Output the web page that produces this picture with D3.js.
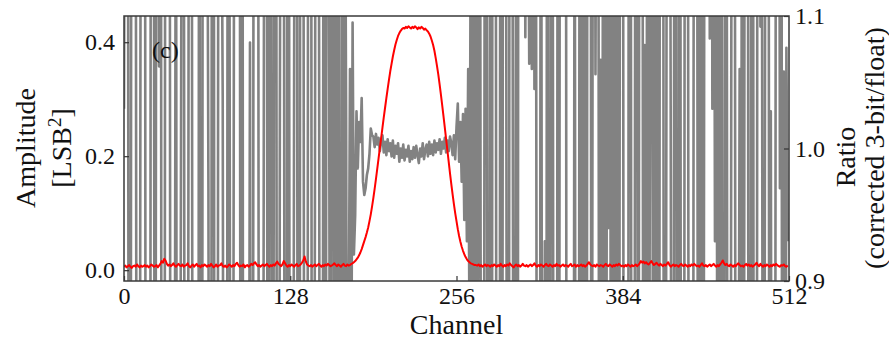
<!DOCTYPE html>
<html>
<head>
<meta charset="utf-8">
<script src="https://cdn.jsdelivr.net/npm/d3@7"></script>
<style>
  body { margin: 0; background: #fff; }
  text { font-family: "Liberation Serif", "Times New Roman", serif; fill: #111; }
</style>
</head>
<body>
<div id="chart"></div>
<script>
// channel ticks
var xTicks = [0, 128, 256, 384, 512];
var ampTicks = [0.0, 0.2, 0.4];
var ratioTicks = [0.9, 1.0, 1.1];

// amplitude spectrum (red), one value per channel 0..511
var amplitude = [
  .006,.008,.005,.007,.009,.006,.004,.007,.008,.006,.01,.007,.005,.008,.006,.007,
  .009,.006,.008,.005,.007,.01,.008,.006,.007,.009,.005,.008,.011,.016,.013,.02,
  .017,.011,.008,.01,.007,.009,.012,.008,.006,.009,.011,.008,.007,.01,.006,.008,
  .009,.012,.007,.005,.008,.01,.006,.009,.011,.007,.008,.005,.009,.007,.01,.008,
  .006,.009,.007,.011,.008,.005,.007,.01,.006,.008,.009,.012,.007,.006,.008,.005,
  .007,.01,.008,.006,.009,.007,.011,.013,.009,.006,.008,.007,.01,.005,.008,.009,
  .006,.008,.011,.009,.012,.014,.01,.007,.009,.006,.008,.01,.007,.009,.011,.008,
  .006,.009,.007,.01,.008,.012,.015,.011,.009,.007,.01,.016,.012,.008,.006,.009,
  .007,.01,.008,.006,.009,.011,.007,.008,.01,.013,.017,.024,.015,.01,.008,.007,
  .009,.006,.008,.01,.007,.009,.011,.008,.006,.009,.007,.01,.008,.011,.009,.007,
  .008,.01,.012,.009,.007,.01,.008,.006,.009,.011,.008,.007,.01,.008,.009,.011,
  .012,.014,.016,.019,.022,.026,.031,.037,.044,.051,.058,.066,.075,.086,.098,.112,
  .127,.143,.16,.178,.196,.214,.232,.25,.268,.285,.302,.318,.334,.349,.362,.375,
  .386,.396,.404,.411,.416,.42,.423,.425,.424,.427,.425,.428,.426,.424,.427,.425,
  .428,.426,.423,.426,.424,.427,.425,.422,.424,.421,.419,.415,.41,.403,.395,.385,
  .372,.358,.343,.326,.308,.289,.27,.25,.23,.21,.19,.17,.151,.133,.116,.1,
  .086,.072,.06,.05,.041,.034,.028,.023,.019,.016,.014,.012,.011,.01,.009,.009,
  .008,.01,.007,.009,.006,.008,.01,.007,.009,.008,.006,.009,.007,.01,.008,.006,
  .009,.007,.011,.008,.006,.009,.007,.01,.008,.012,.009,.007,.005,.008,.01,.007,
  .009,.006,.008,.011,.008,.007,.009,.006,.008,.01,.007,.009,.012,.008,.006,.009,
  .007,.01,.008,.006,.009,.011,.008,.007,.01,.008,.006,.009,.007,.011,.008,.009,
  .006,.008,.01,.007,.009,.008,.006,.009,.011,.007,.008,.01,.006,.009,.007,.008,
  .01,.007,.009,.006,.008,.011,.014,.01,.008,.007,.009,.006,.01,.008,.007,.009,
  .008,.006,.009,.011,.008,.007,.01,.008,.006,.009,.007,.01,.008,.011,.009,.007,
  .008,.006,.009,.007,.01,.008,.006,.009,.007,.008,.01,.007,.009,.012,.016,.013,
  .015,.012,.014,.011,.01,.013,.016,.012,.009,.011,.013,.01,.008,.011,.009,.007,
  .01,.008,.011,.014,.009,.006,.008,.01,.007,.009,.008,.006,.009,.011,.008,.007,
  .01,.008,.006,.009,.007,.01,.008,.011,.009,.007,.008,.006,.009,.012,.008,.007,
  .009,.006,.008,.01,.007,.009,.011,.008,.006,.009,.007,.01,.013,.017,.012,.009,
  .011,.008,.007,.01,.008,.006,.009,.007,.01,.012,.009,.007,.008,.006,.009,.011,
  .008,.01,.007,.009,.006,.008,.01,.013,.009,.007,.011,.008,.006,.009,.007,.01,
  .008,.006,.009,.007,.01,.008,.011,.009,.007,.006,.009,.008,.01,.007,.006,.008
];

// ratio corrected 3-bit / float (grey), channels 0..175
var ratioLow = [
  1.03, 1.42, 1.65, 1.3, .31, .5, 1.72, 1.38, 1.55, 1.27, .44, .6, .52, 1.35, 1.61, 1.2,
  1.49, .27, .4, .55, .33, 1.83, 1.33, 1.21, .39, 1.44, 1.5, 1.062, 1.92, .47, .66, .36,
  1.58, 1.71, 1.24, 1.48, .41, .55, .29, .68, 1.34, .23, .5, .6, 1.05, 1.52, 1.3, .38,
  .62, .4, 1.37, 1.66, 1.41, .49, .33, .57, .72, .3, 1.54, .26, .45, 1.81, 1.32, 1.68,
  1.26, .97, .34, .53, 1.59, 1.43, .21, .64, .48, 1.75, 1.39, 1.22, 1.04, .42, .5, .31,
  1.47, 1.3, .59, .37, .69, 1.35, 1.51, 1.28, 1.67, 1.4, .43, 1.73, .16, .56, .32, .45,
  .63, 1.08, .44, .28, 1.56, 1.82, 1.36, 1.61, .51, .39, .67, .54, 1.31, 1.49, 1.23, .24,
  1.69, 1.4, .46, .73, 1.58, 1.5, .35, .27, 1.02, 1.53, 1.78, 1.3, .41, .19, 1.64, 1.25,
  .33, .58, .5, 1.07, 1.71, 1.44, .4, .22, 1.85, 1.5, 1.36, .47, .7, .3, 1.57, 1.3,
  1.39, .26, .55, .95, 1.63, 1.47, 1.27, .38, .45, .65, 1.74, .2, 1.42, 1.3, 1.05, .36,
  1.59, 1.33, .48, 1.8, .29, 1.52, .61, .37, 1.46, .5, 1.3, 1.023, .6, .85, 1.06, .8
];
// channels 176..268 (signal band)
var ratioBand = [
  1.095, .92, .95, 1.028, .985, 1.02, 1.005, 1.038, .975, .965, .97, .98, .985, .996, 1.015, 1.01,
  1.009, 1.001, 1.011, 1.003, 1.008, .998, 1.006, 1.01, .997, 1.005, .995, 1.007, .998, 1.004, .994, 1.006,
  .993, 1.002, .996, 1.004, .99, 1.0, .993, 1.003, .991, .999, .994, 1.002, .99, .998, .992, 1.001,
  .993, 1.002, .995, .989, 1.0, .994, 1.004, .992, .999, 1.003, .994, 1.005, .996, 1.003, .995, 1.006,
  .997, 1.004, .999, 1.007, .996, 1.005, 1.0, 1.008, .997, 1.006, .998, 1.009,
  1.004, .995, 1.01, .992, 1.016, 1.034, .99, 1.02, .975, 1.026, .946, 1.03, .93, 1.06, .86, 1.2, .7
];
// channels 269..511
var ratioHigh = [
  1.5, .32, 1.66, .41, 1.28, 1.4, .55, .24, .6, 1.44, 1.37, .59, .47, 1.35, .2, 1.81,
  1.22, 1.49, .43, .62, .3, 1.66, .4, 1.51, 1.77, 1.35, .55, .31, 1.45, 1.68, 1.28, .57,
  .46, 1.39, .44, 1.84, 1.58, 1.41, 1.72, 1.33, 1.084, 1.5, 1.27, 1.064, 1.38, 1.06, 1.55, 1.045,
  1.3, .65, .58, .36, 1.48, .58, .42, .93, .42, 1.7, .31, .5, 1.57, 1.25, .46, .35,
  .27, 1.43, .62, 1.79, 1.38, 1.51, 1.2, 1.66, .3, .4, .55, .33, .68, .47, 1.32, .23,
  .6, .41, 1.53, .35, 1.71, .49, 1.37, .26, 1.6, 1.42, 1.81, .44, 1.29, 1.64, 1.056, 1.37,
  1.48, .52, 1.067, .3, 1.6, 1.071, .5, 1.2, .94, 1.74, .4, 1.35, .58, 1.52, .25, 1.66,
  .43, 1.39, 1.34, 1.61, .22, .55, .47, .38, 1.82, 1.49, .26, .31, .58, 1.63, 1.44, .28,
  1.7, 1.35, 1.52, .46, 1.078, .37, 1.61, .54, 1.066, 1.4, .96, .29, 1.56, .45, 1.33, .6,
  1.76, 1.39, 1.47, .23, .63, 1.3, 1.58, 1.5, .98, .45, .35, 1.69, 1.57, .24, .42, 1.8,
  .31, .66, .4, 1.54, 1.27, 1.38, .53, .72, .43, .44, 1.6, 1.36, 1.49, .62, 1.27, .21,
  1.65, .48, 1.35, 1.57, 1.31, 1.5, 1.083, 1.62, 1.03, 1.44, .93, 1.7, .39, 1.52, .55, 1.36,
  .3, .61, 1.46, 1.25, .34, .78, .6, 1.42, 1.26, 1.55, .51, .38, .67, 1.06, .44, 1.68,
  .33, 1.47, 1.58, 1.84, .4, .3, 1.24, 1.62, .52, .39, .36, 1.73, 1.47, 1.092, 1.29, .56,
  .63, 1.45, 1.35, 1.64, .5, 1.028, .42, .77, .28, 1.4, 1.55, 1.6, .97, 1.5, .4, 1.058,
  .45, 1.076, .93
];

var ratio = ratioLow.concat(ratioBand, ratioHigh);

var margin = {top: 16, right: 100, bottom: 64, left: 124},
    width = 889 - margin.left - margin.right,
    height = 345 - margin.top - margin.bottom;

var svg = d3.select("#chart")
  .append("svg")
    .attr("width", 889)
    .attr("height", 345)
  .append("g")
    .attr("transform", "translate(" + margin.left + "," + margin.top + ")");

var x = d3.scaleLinear().domain([0, 512]).range([0, width]);
var yAmp = d3.scaleLinear().domain([-0.019, 0.446]).range([height, 0]);
var yRatio = d3.scaleLinear().domain([0.9, 1.1]).range([height, 0]);

svg.append("clipPath")
    .attr("id", "plotclip")
  .append("rect")
    .attr("width", width)
    .attr("height", height);

// grey ratio line (clipped to the frame)
svg.append("path")
    .datum(ratio)
    .attr("clip-path", "url(#plotclip)")
    .attr("fill", "none")
    .attr("stroke", "#828282")
    .attr("stroke-width", 2.6)
    .attr("stroke-linejoin", "round")
    .attr("d", d3.line()
        .x(function(d, i) { return x(i); })
        .y(function(d) { return yRatio(d); }));

// red amplitude line
svg.append("path")
    .datum(amplitude)
    .attr("clip-path", "url(#plotclip)")
    .attr("fill", "none")
    .attr("stroke", "#ff0000")
    .attr("stroke-width", 2)
    .attr("stroke-linejoin", "round")
    .attr("d", d3.line()
        .x(function(d, i) { return x(i); })
        .y(function(d) { return yAmp(d); }));

// axes, ticks pointing inwards
var xAxis = svg.append("g")
    .attr("transform", "translate(0," + height + ")")
    .call(d3.axisBottom(x).tickValues(xTicks).tickFormat(d3.format("d"))
        .tickSizeInner(-5).tickSizeOuter(0).tickPadding(6));

var yAxisL = svg.append("g")
    .call(d3.axisLeft(yAmp).tickValues(ampTicks).tickFormat(d3.format(".1f"))
        .tickSizeInner(-5).tickSizeOuter(0).tickPadding(9));

var yAxisR = svg.append("g")
    .attr("transform", "translate(" + width + ",0)")
    .call(d3.axisRight(yRatio).tickValues(ratioTicks).tickFormat(d3.format(".1f"))
        .tickSizeInner(-5).tickSizeOuter(0).tickPadding(6));

[xAxis, yAxisL, yAxisR].forEach(function(g) {
  g.select(".domain").remove();
  g.selectAll("line").attr("stroke", "#333").attr("stroke-width", 1.2);
  g.selectAll("text")
    .attr("fill", "#111")
    .style("font-family", "'Liberation Serif', serif")
    .style("font-size", "24px");
});

// frame
svg.append("rect")
    .attr("width", width)
    .attr("height", height)
    .attr("fill", "none")
    .attr("stroke", "#3a3a3a")
    .attr("stroke-width", 1.5);

// panel tag
svg.append("text")
    .attr("x", 28)
    .attr("y", 42)
    .style("font-size", "24px")
    .text("(c)");

// x label
svg.append("text")
    .attr("text-anchor", "middle")
    .attr("x", width / 2)
    .attr("y", 318)
    .style("font-size", "28px")
    .text("Channel");

// left label, two lines
svg.append("text")
    .attr("text-anchor", "middle")
    .attr("transform", "translate(" + (35 - margin.left) + "," + (148 - margin.top) + ") rotate(-90)")
    .style("font-size", "28px")
    .text("Amplitude");

var lsb = svg.append("text")
    .attr("text-anchor", "middle")
    .attr("transform", "translate(" + (71 - margin.left) + "," + (148 - margin.top) + ") rotate(-90)")
    .style("font-size", "28px");
lsb.append("tspan").text("[LSB");
lsb.append("tspan").attr("dy", -10).style("font-size", "19px").text("2");
lsb.append("tspan").attr("dy", 10).text("]");

// right label, two lines
svg.append("text")
    .attr("text-anchor", "middle")
    .attr("transform", "translate(" + (855 - margin.left) + "," + (157 - margin.top) + ") rotate(-90)")
    .style("font-size", "28px")
    .text("Ratio");

svg.append("text")
    .attr("text-anchor", "middle")
    .attr("transform", "translate(" + (884 - margin.left) + "," + (148 - margin.top) + ") rotate(-90)")
    .style("font-size", "28px")
    .text("(corrected 3-bit/float)");
</script>
</body>
</html>
